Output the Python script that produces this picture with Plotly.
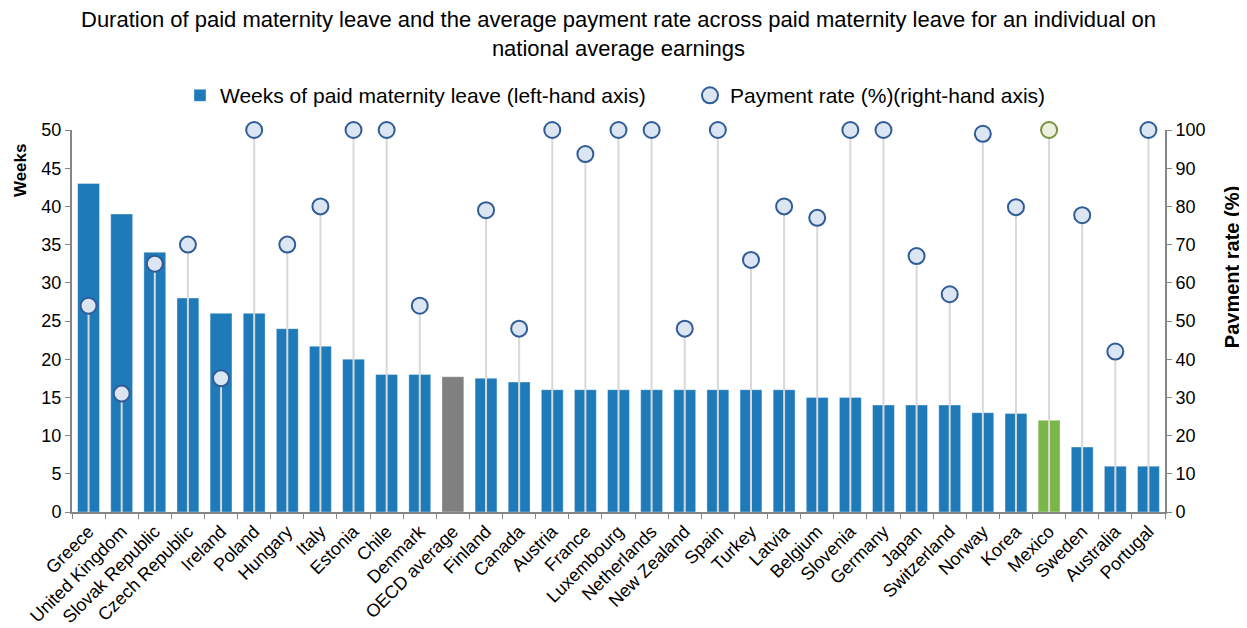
import plotly.graph_objects as go

countries = ["Greece", "United Kingdom", "Slovak Republic", "Czech Republic", "Ireland", "Poland",
             "Hungary", "Italy", "Estonia", "Chile", "Denmark", "OECD average", "Finland", "Canada",
             "Austria", "France", "Luxembourg", "Netherlands", "New Zealand", "Spain", "Turkey",
             "Latvia", "Belgium", "Slovenia", "Germany", "Japan", "Switzerland", "Norway", "Korea",
             "Mexico", "Sweden", "Australia", "Portugal"]
weeks = [43, 39, 34, 28, 26, 26, 24, 21.7, 20, 18, 18, 17.7, 17.5, 17, 16, 16, 16, 16, 16, 16, 16,
         16, 15, 15, 14, 14, 14, 13, 12.9, 12, 8.5, 6, 6]
rate = [54, 31, 65, 70, 35, 100, 70, 80, 100, 100, 54, None, 79, 48, 100, 93.7, 100, 100, 48, 100, 66,
        80, 77, 100, 100, 67, 57, 99, 79.8, 100, 77.7, 42, 100]

BLUE = "#1F7AB9"
bar_colors = ["#808080" if c == "OECD average" else ("#7AB648" if c == "Mexico" else BLUE) for c in countries]
mk_fill = ["#EBF1DE" if c == "Mexico" else "#DCE6F2" for c in countries]
mk_line = ["#76923C" if c == "Mexico" else "#2F5C97" for c in countries]

# drop lines from 0 to the rate
lx, ly = [], []
for c, r in zip(countries, rate):
    if r is None:
        continue
    lx += [c, c, None]
    ly += [0, r, None]

fig = go.Figure()
fig.add_trace(go.Bar(x=countries, y=weeks, name="Weeks of paid maternity leave (left-hand axis)",
                     marker=dict(color=bar_colors, line=dict(color="rgba(255,255,255,0.35)", width=1)),
                     yaxis="y"))
fig.add_trace(go.Scatter(x=lx, y=ly, mode="lines", line=dict(color="#D9D9D9", width=2),
                         showlegend=False, hoverinfo="skip", yaxis="y2", cliponaxis=False))
fig.add_trace(go.Scatter(x=countries, y=rate, mode="markers", name="Payment rate (%)(right-hand axis)",
                         marker=dict(size=16, color=mk_fill, line=dict(color=mk_line, width=2)),
                         yaxis="y2", cliponaxis=False))

axis_col = "#868686"
fig.update_layout(
    template="none",
    width=1247, height=628,
    paper_bgcolor="white", plot_bgcolor="white",
    font=dict(family="Liberation Sans, Arial, sans-serif", color="#000000"),
    margin=dict(l=64, r=90, t=122, b=124, autoexpand=False),
    bargap=0.34,
    showlegend=True,
    legend=dict(orientation="h", x=0.0988, xanchor="left", y=1.09, yanchor="middle",
                font=dict(size=21), entrywidth=465, entrywidthmode="pixels", bgcolor="rgba(0,0,0,0)"),
    xaxis=dict(range=[-0.5, 32.5], showline=True, linecolor=axis_col, linewidth=2, ticks="outside",
               tickson="boundaries", ticklen=5, tickcolor=axis_col, tickangle=-45,
               tickfont=dict(size=18), showgrid=False, automargin=False),
    yaxis=dict(range=[0, 50], dtick=5, showline=True, linecolor=axis_col, linewidth=2, ticks="outside",
               ticklen=5, tickcolor=axis_col, tickfont=dict(size=18), showgrid=False, zeroline=False,
               automargin=False),
    yaxis2=dict(range=[0, 100], dtick=10, overlaying="y", side="right", showline=True, linecolor=axis_col,
                linewidth=2, ticks="outside", ticklen=5, tickcolor=axis_col, tickfont=dict(size=18),
                showgrid=False, zeroline=False, automargin=False),
    annotations=[
        dict(text="Duration of paid maternity leave and the average payment rate across paid maternity leave for an individual on<br>national average earnings",
             xref="paper", yref="paper", x=0.5, y=(512 - 34) / 382, xanchor="center", yanchor="middle",
             showarrow=False, font=dict(size=22)),
        dict(text="<b>Weeks</b>", xref="paper", yref="paper", x=-0.0476, y=0.895, textangle=-90,
             showarrow=False, font=dict(size=17), xanchor="center", yanchor="middle"),
        dict(text="<b>Payment rate (%)</b>", xref="paper", yref="paper", x=1.061, y=0.64, textangle=-90,
             showarrow=False, font=dict(size=20), xanchor="center", yanchor="middle"),
    ],
)

fig.write_html("out.html")
